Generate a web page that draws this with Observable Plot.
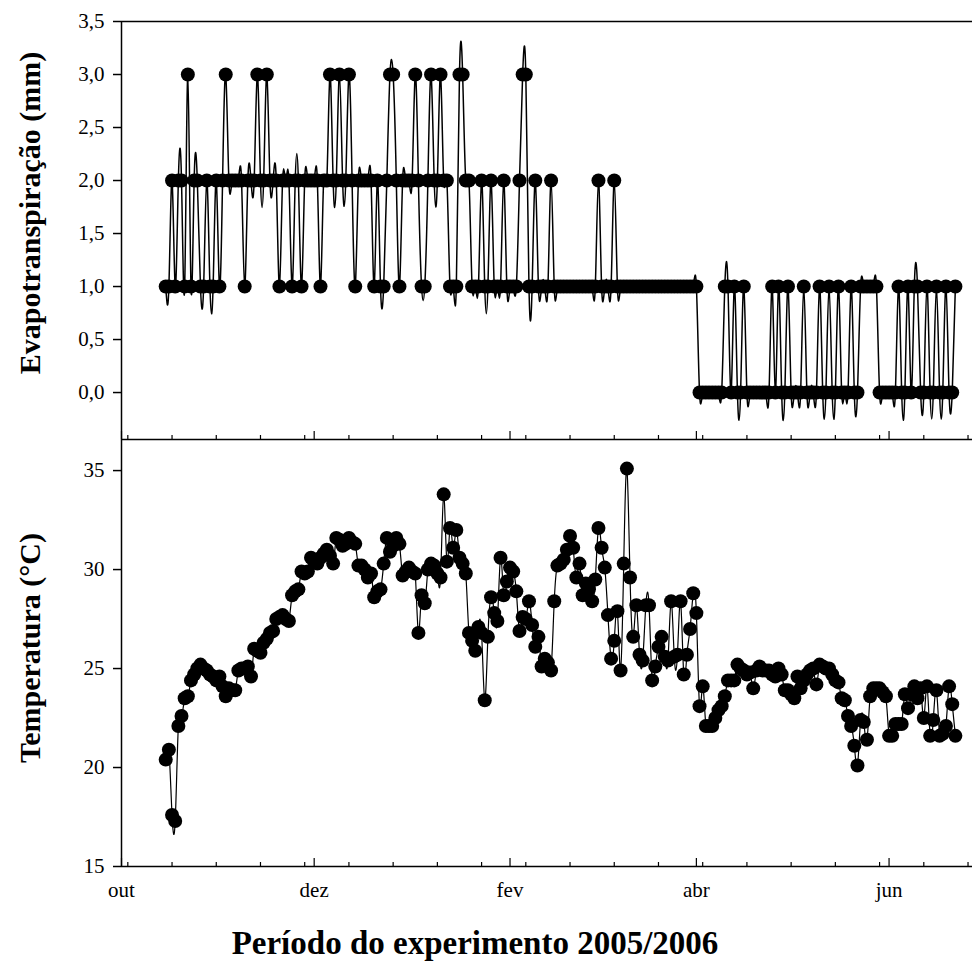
<!DOCTYPE html>
<html><head><meta charset="utf-8">
<script src="https://cdn.jsdelivr.net/npm/d3@7"></script>
<script src="https://cdn.jsdelivr.net/npm/@observablehq/plot@0.6"></script>
<style>
body{margin:0;background:#fff;}
#wrap{position:relative;width:972px;height:962px;font-family:"Liberation Serif","Times New Roman",serif;color:#000;}
#wrap svg{position:absolute;left:0;top:0;}
.ytitle{position:absolute;font-weight:bold;font-size:30px;white-space:nowrap;transform:translate(-50%,-50%) rotate(-90deg);}
.xtitle{position:absolute;font-weight:bold;font-size:33px;white-space:nowrap;transform:translate(-50%,-50%);}
</style></head><body>
<div id="wrap"></div>
<script>
// ---- data ----
const startDate = "2005-10-15"; // first daily observation
const etValues = [
1,1,2,1,2,2,1,3,1,2,
2,1,1,2,1,1,2,1,2,3,
2,2,2,2,2,1,2,2,2,3,
2,2,3,2,2,2,1,2,2,2,
1,2,2,1,2,2,2,2,2,1,
2,2,3,2,2,3,2,2,3,2,
1,2,2,2,2,2,1,2,1,1,
2,3,3,2,1,2,2,2,2,3,
2,1,1,2,3,2,2,3,2,2,
1,1,1,3,3,2,2,1,1,1,
2,1,1,2,1,1,1,2,1,1,
1,1,2,3,3,1,1,2,1,1,
1,1,2,1,1,1,1,1,1,1,
1,1,1,1,1,1,1,2,1,1,
1,1,2,1,1,1,1,1,1,1,
1,1,1,1,1,1,1,1,1,1,
1,1,1,1,1,1,1,1,1,0,
0,0,0,0,0,0,0,1,1,0,
1,0,0,1,0,0,0,0,0,0,
0,0,1,0,1,0,0,1,0,0,
0,0,1,0,0,0,0,1,0,0,
1,0,0,1,0,0,0,1,0,0,
1,1,1,1,1,1,0,0,0,0,
0,0,1,0,0,1,0,1,1,0,
0,1,0,0,1,0,0,1,0,0,
1];
const tempValues = [
20.4,20.9,17.6,17.3,22.1,22.6,23.5,23.6,24.4,24.7,
25.0,25.2,25.0,24.9,24.7,24.6,24.4,24.6,24.1,23.6,
24.0,23.9,23.9,24.9,25.0,25.0,25.1,24.6,26.0,25.9,
25.8,26.3,26.5,26.8,26.9,27.5,27.6,27.7,27.5,27.4,
28.7,28.9,29.0,29.9,29.8,29.9,30.6,30.4,30.3,30.6,
30.8,31.0,30.7,30.3,31.6,31.5,31.2,31.3,31.6,31.4,
31.3,30.2,30.2,30.0,29.6,29.8,28.6,28.9,29.0,30.3,
31.6,30.9,31.2,31.6,31.3,29.7,29.9,30.1,29.9,29.8,
26.8,28.7,28.3,30.0,30.3,30.2,29.8,29.6,33.8,30.4,
32.1,31.1,32.0,30.6,30.3,29.8,26.8,26.4,25.9,27.1,
26.8,23.4,26.6,28.6,27.8,27.4,30.6,28.7,29.4,30.1,
29.9,28.9,26.9,27.6,27.5,28.4,27.2,26.1,26.6,25.1,
25.5,25.3,24.9,28.4,30.2,30.3,30.5,31.0,31.7,31.1,
29.6,30.3,28.7,29.3,29.0,28.4,29.5,32.1,31.1,30.1,
27.7,25.5,26.4,27.9,24.9,30.3,35.1,29.6,26.6,28.2,
25.7,25.4,28.2,28.2,24.4,25.1,26.1,26.6,25.6,25.4,
28.4,25.6,25.7,28.4,24.7,25.7,27.0,28.8,27.8,23.1,
24.1,22.1,22.1,22.1,22.5,22.9,23.1,23.6,24.4,24.4,
24.4,25.2,25.0,24.9,24.7,24.8,24.0,24.9,25.1,24.9,
24.9,24.9,24.7,24.6,25.0,24.7,23.9,23.9,23.7,23.5,
24.6,24.0,24.4,24.7,24.9,25.0,24.2,25.2,25.1,25.0,
25.0,24.7,24.4,24.3,23.5,23.4,22.6,22.1,21.1,20.1,
22.4,22.3,21.4,23.6,24.0,24.0,24.0,23.8,23.6,21.6,
21.6,22.2,22.2,22.2,23.7,23.0,23.7,24.1,23.5,24.0,
22.5,24.1,21.6,22.4,23.9,21.6,21.7,22.1,24.1,23.2,
21.6];
const etTicks = [0, 0.5, 1, 1.5, 2, 2.5, 3, 3.5];
const tempTicks = [15, 20, 25, 30, 35];
const majorTicks = ["2005-10-01","2005-12-01","2006-02-01","2006-04-01","2006-06-01"];
const monthLabels = ["out","dez","fev","abr","jun"];
const minorTicks = ["2005-10-03","2005-10-17","2005-10-31","2005-11-14","2005-11-28","2005-12-12","2005-12-26",
  "2006-01-09","2006-01-23","2006-02-06","2006-02-20","2006-03-06","2006-03-20","2006-04-03","2006-04-17",
  "2006-05-01","2006-05-15","2006-05-29","2006-06-12","2006-06-26"];
const xDomain = ["2005-10-01T00:00Z", "2006-06-27T10:00Z"];
const etDomain = [-0.443, 3.5];
const tempDomain = [15, 36.57];
const etTitle = "Evapotranspiração (mm)";
const tempTitle = "Temperatura (°C)";
const xTitle = "Período do experimento 2005/2006";

// ---- build ----
const start = new Date(startDate + "T00:00Z");
const etData = etValues.map((v, i) => ({date: d3.utcDay.offset(start, i), v}));
const tempData = tempValues.map((v, i) => ({date: d3.utcDay.offset(start, i), v}));
const xDom = xDomain.map(d => new Date(d));
const majorDates = majorTicks.map(d => new Date(d + "T00:00Z"));
const minorDates = minorTicks.map(d => new Date(d + "T00:00Z"));
const labelOf = new Map(majorDates.map((d, i) => [+d, monthLabels[i]]));
const comma = d => d.toFixed(1).replace(".", ",");

const W = 972;
const topH = 440, topMT = 21, topMB = 1;
const botH = 962, botMT = 439, botMB = 96;
const topFrame = topH - topMT - topMB;
const botFrame = botH - botMT - botMB;
const svgStyle = {fontFamily: "'Liberation Serif','Times New Roman',serif", fontSize: "21px", background: "transparent", overflow: "visible", color: "#000"};

const topPlot = Plot.plot({
  width: W, height: topH,
  marginTop: topMT, marginBottom: topMB, marginLeft: 121, marginRight: 0,
  style: svgStyle,
  x: {type: "utc", domain: xDom, axis: null},
  y: {domain: etDomain, label: null},
  marks: [
    Plot.ruleY([etDomain[1]], {stroke: "#000", strokeWidth: 1.5}),
    Plot.ruleX([xDom[0]], {stroke: "#000", strokeWidth: 1.5}),
    Plot.axisY({ticks: etTicks, tickSize: 8, tickPadding: 9, tickFormat: comma, label: null, strokeWidth: 1.5, fontSize: 21}),
    Plot.tickX(minorDates, {x: d => d, insetTop: topFrame - 4, stroke: "#000", strokeWidth: 1.2}),
    Plot.tickX(majorDates, {x: d => d, insetTop: topFrame - 8, stroke: "#000", strokeWidth: 1.2}),
    Plot.line(etData, {x: "date", y: "v", curve: "natural", stroke: "#000", strokeWidth: 1.5}),
    Plot.dot(etData, {x: "date", y: "v", r: 7, fill: "#000", stroke: "none"})
  ]
});

const botPlot = Plot.plot({
  width: W, height: botH,
  marginTop: botMT, marginBottom: botMB, marginLeft: 121, marginRight: 0,
  style: svgStyle,
  x: {type: "utc", domain: xDom, label: null},
  y: {domain: tempDomain, label: null},
  marks: [
    Plot.ruleY([tempDomain[1]], {stroke: "#000", strokeWidth: 1.5}),
    Plot.ruleY([tempDomain[0]], {stroke: "#000", strokeWidth: 1.5}),
    Plot.ruleX([xDom[0]], {stroke: "#000", strokeWidth: 1.5}),
    Plot.axisY({ticks: tempTicks, tickSize: 8, tickPadding: 9, label: null, strokeWidth: 1.5, fontSize: 21}),
    Plot.axisX({ticks: majorDates, tickSize: 0, tickPadding: 16, tickFormat: d => labelOf.get(+d), label: null, fontSize: 21}),
    Plot.tickX(minorDates, {x: d => d, insetTop: botFrame - 4, stroke: "#000", strokeWidth: 1.2}),
    Plot.tickX(majorDates, {x: d => d, insetTop: botFrame - 8, stroke: "#000", strokeWidth: 1.2}),
    Plot.line(tempData, {x: "date", y: "v", curve: "natural", stroke: "#000", strokeWidth: 1.2}),
    Plot.dot(tempData, {x: "date", y: "v", r: 7, fill: "#000", stroke: "none"})
  ]
});

const wrap = document.getElementById("wrap");
wrap.appendChild(topPlot);
wrap.appendChild(botPlot);

function addTitle(cls, text, x, y) {
  const d = document.createElement("div");
  d.className = cls;
  d.textContent = text;
  d.style.left = x + "px";
  d.style.top = y + "px";
  wrap.appendChild(d);
}
addTitle("ytitle", etTitle, 30, 213);
addTitle("ytitle", tempTitle, 30, 648);
addTitle("xtitle", xTitle, 475, 943);
</script>
</body></html>
